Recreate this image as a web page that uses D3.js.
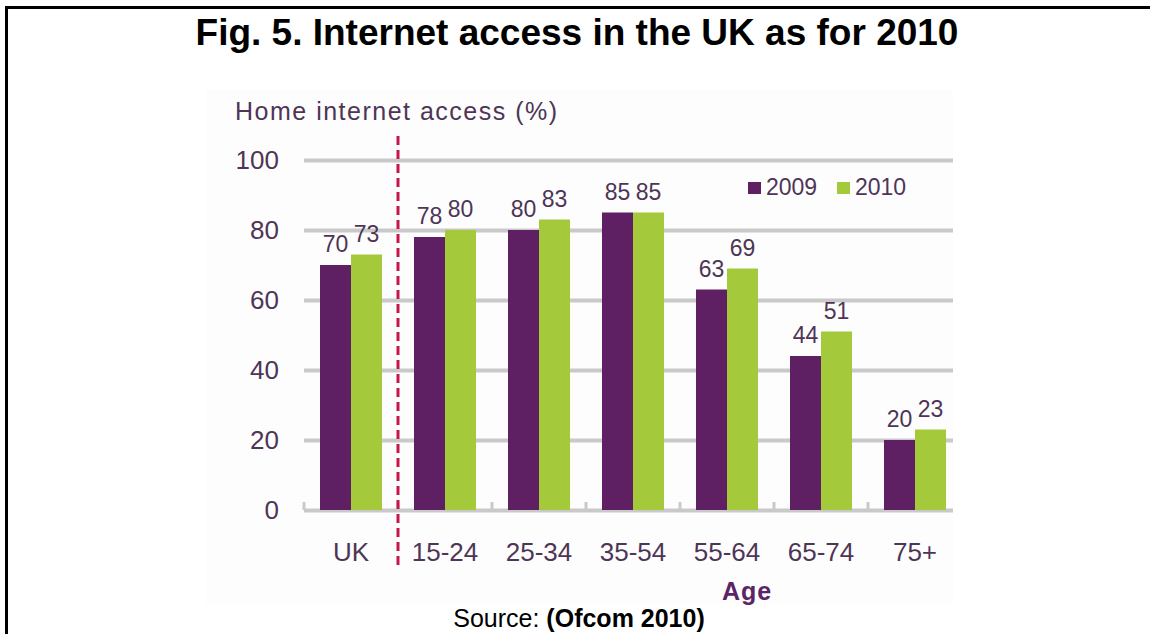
<!DOCTYPE html>
<html>
<head>
<meta charset="utf-8">
<script src="https://cdn.jsdelivr.net/npm/d3@7"></script>
<style>
  html, body { margin: 0; padding: 0; background: #ffffff; }
  svg { display: block; }
  text { font-family: "Liberation Sans", Arial, sans-serif; }
</style>
</head>
<body>
<svg id="chart" width="1150" height="634"></svg>
<script>
// Home internet access by age group, 2009 vs 2010
const categories = ["UK", "15-24", "25-34", "35-54", "55-64", "65-74", "75+"];
const seriesNames = ["2009", "2010"];
const values2009 = [70, 78, 80, 85, 63, 44, 20];
const values2010 = [73, 80, 83, 85, 69, 51, 23];
const yTicks = [0, 20, 40, 60, 80, 100];

const purple = "#5e1f63";
const green = "#a4c93a";
const textPurple = "#4e3556";
const gridGray = "#c9c9c9";

const svg = d3.select("#chart");

// Outer frame
svg.append("rect")
  .attr("x", 6.5).attr("y", 7.5)
  .attr("width", 1300).attr("height", 800)
  .attr("fill", "none").attr("stroke", "#000").attr("stroke-width", 3);

// Title
svg.append("text")
  .attr("x", 577).attr("y", 45)
  .attr("text-anchor", "middle")
  .attr("font-size", 37).attr("font-weight", "bold").attr("fill", "#000")
  .text("Fig. 5. Internet access in the UK as for 2010");

// Chart panel background
svg.append("rect")
  .attr("x", 206).attr("y", 90).attr("width", 747).attr("height", 515)
  .attr("fill", "#fdfdfd");

const plotLeft = 304, plotRight = 953;
const x0 = d3.scaleBand().domain(categories).range([304, 962]).padding(0);
const x1 = d3.scaleBand().domain(seriesNames).range([16, 78]).padding(0);
const y = d3.scaleLinear().domain([0, 100]).range([510, 160]);

// Gridlines and y tick labels
const yAxis = d3.axisLeft(y)
  .tickValues(yTicks)
  .tickSize(-(plotRight - plotLeft))
  .tickPadding(25)
  .tickFormat(d3.format("d"));

const gy = svg.append("g")
  .attr("transform", `translate(${plotLeft},0)`)
  .call(yAxis);
gy.select(".domain").remove();
gy.selectAll(".tick line")
  .attr("stroke", gridGray).attr("stroke-width", 4);
gy.selectAll(".tick text")
  .attr("font-size", 26).attr("fill", textPurple)
  .attr("font-family", "Liberation Sans, Arial, sans-serif");

// Category boundary ticks on the base line
svg.append("g").selectAll("line")
  .data(categories)
  .join("line")
  .attr("x1", d => x0(d)).attr("x2", d => x0(d))
  .attr("y1", 502).attr("y2", 510)
  .attr("stroke", gridGray).attr("stroke-width", 3);

// Y axis title
svg.append("text")
  .attr("x", 235).attr("y", 120)
  .attr("font-size", 25).attr("fill", textPurple)
  .attr("letter-spacing", 1.5)
  .text("Home internet access (%)");

// Bars
const rows = categories.map((c, i) => ({ cat: c, vals: [
  { s: "2009", v: values2009[i] },
  { s: "2010", v: values2010[i] }
]}));
const color = d3.scaleOrdinal().domain(seriesNames).range([purple, green]);

const groups = svg.append("g").selectAll("g")
  .data(rows)
  .join("g")
  .attr("transform", d => `translate(${x0(d.cat)},0)`);

groups.selectAll("rect")
  .data(d => d.vals)
  .join("rect")
  .attr("x", d => x1(d.s))
  .attr("width", x1.bandwidth())
  .attr("y", d => y(d.v))
  .attr("height", d => y(0) - y(d.v))
  .attr("fill", d => color(d.s));

groups.selectAll("text.val")
  .data(d => d.vals)
  .join("text")
  .attr("class", "val")
  .attr("x", d => x1(d.s) + x1.bandwidth() / 2)
  .attr("y", d => y(d.v) - 13)
  .attr("text-anchor", "middle")
  .attr("font-size", 23).attr("fill", textPurple)
  .text(d => d.v);

// Dashed separator between the UK total and the age groups
svg.append("line")
  .attr("x1", x0("15-24")).attr("x2", x0("15-24"))
  .attr("y1", 136).attr("y2", 567)
  .attr("stroke", "#c8164a").attr("stroke-width", 3)
  .attr("stroke-dasharray", "9,5");

// Category labels
svg.append("g").selectAll("text")
  .data(categories)
  .join("text")
  .attr("x", d => x0(d) + x0.bandwidth() / 2)
  .attr("y", 561)
  .attr("text-anchor", "middle")
  .attr("font-size", 26).attr("fill", textPurple)
  .text(d => d);

// X axis title
svg.append("text")
  .attr("x", 747).attr("y", 600)
  .attr("text-anchor", "middle")
  .attr("font-size", 25).attr("font-weight", "bold").attr("fill", "#5a2466")
  .attr("letter-spacing", 1)
  .text("Age");

// Legend
const legend = svg.append("g");
const legendItems = [
  { s: "2009", sx: 748, tx: 766 },
  { s: "2010", sx: 837, tx: 855 }
];
legend.selectAll("rect")
  .data(legendItems)
  .join("rect")
  .attr("x", d => d.sx).attr("y", 182)
  .attr("width", 13).attr("height", 12)
  .attr("fill", d => color(d.s));
legend.selectAll("text")
  .data(legendItems)
  .join("text")
  .attr("x", d => d.tx).attr("y", 195)
  .attr("font-size", 23).attr("fill", textPurple)
  .text(d => d.s);

// Source line
const src = svg.append("text")
  .attr("x", 579).attr("y", 627)
  .attr("text-anchor", "middle")
  .attr("font-size", 25).attr("fill", "#000");
src.append("tspan").text("Source: ");
src.append("tspan").attr("font-weight", "bold").text("(Ofcom 2010)");
</script>
</body>
</html>
